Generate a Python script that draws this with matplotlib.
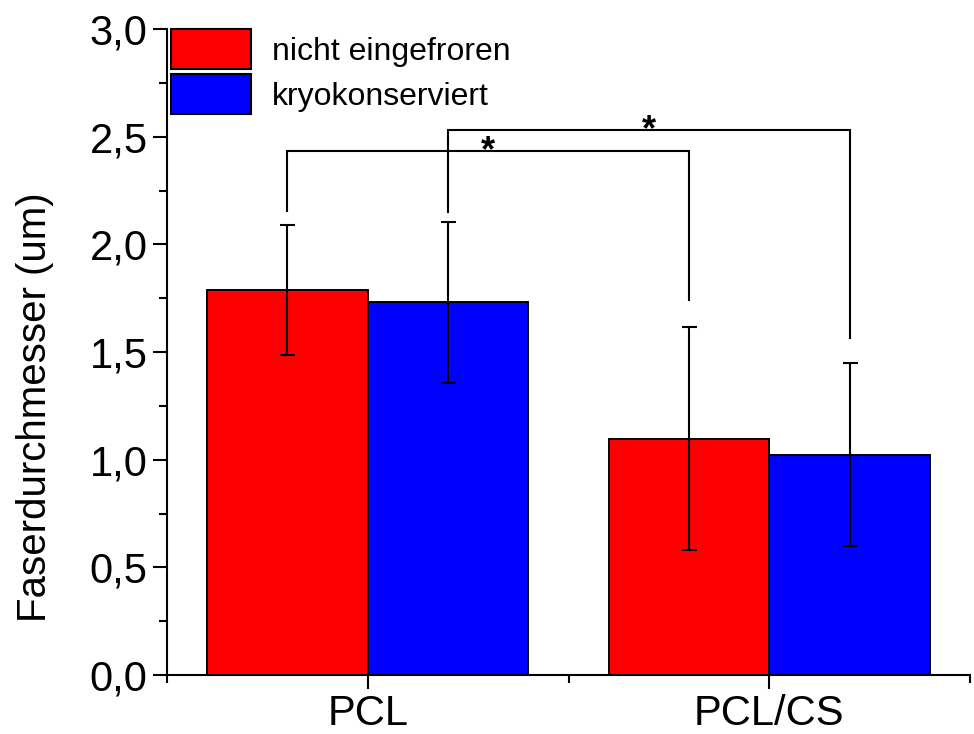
import matplotlib
matplotlib.use('Agg')
import matplotlib.pyplot as plt
from matplotlib.patches import Patch
from matplotlib.ticker import MultipleLocator, FixedLocator, FuncFormatter
import numpy as np

plt.rcParams['font.family'] = ['Liberation Sans', 'DejaVu Sans']

# Data (mean diameter and standard deviation)
groups = ['PCL', 'PCL/CS']
labels = ['nicht eingefroren', 'kryokonserviert']
colors = ['#ff0000', '#0000ff']
means = [[1.786, 1.098],   # nicht eingefroren
         [1.730, 1.023]]   # kryokonserviert
errors = [[0.302, 0.518],
          [0.372, 0.425]]

# Significance brackets: (x left, x right, y top, y left leg end, y right leg end)
brackets = [(0.8, 1.8, 2.433, 2.153, 1.740),
            (1.2, 2.2, 2.530, 2.149, 1.567)]
bracket_text = ['*', '*']

fig = plt.figure(figsize=(9.74, 7.34), dpi=100)
ax = fig.add_axes([167 / 974, 59 / 734, 803 / 974, 646 / 734])

x = np.arange(1, len(groups) + 1)
width = 0.4
for i in range(len(labels)):
    offset = (i - 0.5) * width
    ax.bar(x + offset, means[i], width, color=colors[i], edgecolor='black',
           linewidth=1.4, zorder=2)
    ax.errorbar(x + offset, means[i], yerr=errors[i], fmt='none', ecolor='black',
                elinewidth=1.5, capsize=5.4, capthick=1.5, zorder=3)

for (xl, xr, yt, yl, yr), txt in zip(brackets, bracket_text):
    ax.plot([xl, xl, xr, xr], [yl, yt, yt, yr], color='black', lw=1.5,
            solid_joinstyle='miter', zorder=3)
    ax.text((xl + xr) / 2, yt - 0.045, txt, ha='center', va='baseline',
            fontsize=26, fontweight='bold')

ax.set_xlim(0.5, 2.5)
ax.set_ylim(0, 3.0)
ax.set_xticks(x)
ax.set_xticklabels(groups)
ax.xaxis.set_minor_locator(FixedLocator([0.5, 1.5, 2.5]))
ax.yaxis.set_major_locator(MultipleLocator(0.5))
ax.yaxis.set_minor_locator(MultipleLocator(0.25))
ax.yaxis.set_major_formatter(FuncFormatter(lambda v, p: f'{v:.1f}'.replace('.', ',')))

for s in ['top', 'right']:
    ax.spines[s].set_visible(False)
for s in ['left', 'bottom']:
    ax.spines[s].set_linewidth(1.5)

ax.tick_params(which='major', direction='out', length=10, width=1.5, labelsize=30, pad=4)
ax.tick_params(which='minor', direction='out', length=5.5, width=1.5)
ax.set_ylabel('Faserdurchmesser (um)', fontsize=29)
ax.yaxis.set_label_coords(-0.141, 0.415)

handles = [Patch(facecolor=c, edgecolor='black', linewidth=1.5) for c in colors]
ax.legend(handles, labels, loc='upper left', bbox_to_anchor=(0.005, 1.0),
          frameon=False, fontsize=23, handlelength=2.5, handleheight=1.55,
          handletextpad=0.65, labelspacing=0.16, borderpad=0, borderaxespad=0)

fig.savefig('out.png', dpi=100)
